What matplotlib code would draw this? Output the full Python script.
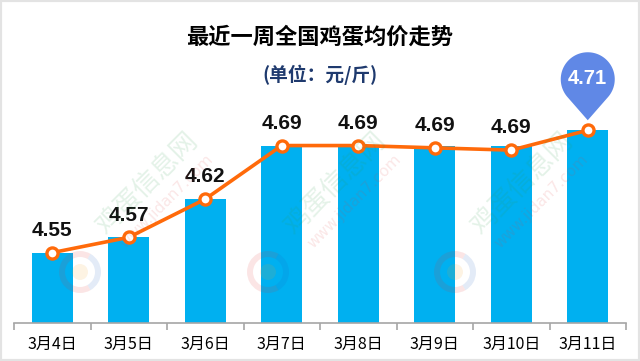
import numpy as np
import matplotlib
matplotlib.use("Agg")
import matplotlib.pyplot as plt
import matplotlib.transforms as mtransforms
from matplotlib.path import Path
from matplotlib.patches import PathPatch, Rectangle, Wedge, Circle

plt.rcParams['font.family'] = ['Noto Sans CJK SC', 'DejaVu Sans']

categories = ["3月4日", "3月5日", "3月6日", "3月7日", "3月8日", "3月9日", "3月10日", "3月11日"]
bar_values = [4.55, 4.57, 4.62, 4.69, 4.69, 4.69, 4.69, 4.71]
line_values = [4.55, 4.57, 4.62, 4.69, 4.69, 4.687, 4.684, 4.71]
title = "最近一周全国鸡蛋均价走势"
subtitle = "(单位：元/斤)"
watermark_cn = "鸡蛋信息网"
watermark_url = "www.jidan7.com"

W, H = 640, 361
fig = plt.figure(figsize=(6.4, 3.61), dpi=100)
fig.patch.set_facecolor("white")
ax = fig.add_axes([14/W, 1-323/H, 612/W, (323-40)/H])
ax.set_facecolor("none")

x = np.arange(len(categories))
ax.bar(x, bar_values, width=0.53, color="#00b0f0", zorder=2)
ax.plot(x, line_values, color="#ff6a0a", lw=2.6, marker="o", ms=8,
        mfc="white", mec="#ff6a0a", mew=2.4, zorder=4)

ax.set_xlim(-0.5, len(categories)-0.5)
ax.set_ylim(4.458, 4.828)
for s in ["top", "right", "left"]:
    ax.spines[s].set_visible(False)
ax.spines["bottom"].set_color("#a6a6a6")
ax.spines["bottom"].set_linewidth(1.2)
ax.set_yticks([])
ax.set_xticks(x)
ax.set_xticklabels(categories, fontsize=11.5, color="black")
ax.tick_params(axis="x", length=0, pad=9)
ax.set_xticks(np.arange(-0.5, len(categories)), minor=True)
ax.tick_params(axis="x", which="minor", length=5, color="#a6a6a6", width=1.2, direction="out")

# value labels
for i, v in enumerate(line_values[:-1]):
    ax.annotate(f"{bar_values[i]:.2f}", (x[i], v), xytext=(0, 12), textcoords="offset points",
                ha="center", va="baseline", fontsize=15, fontweight="bold",
                family=["Liberation Sans"], color="#111111", zorder=5)

# pin for last value
R, d = 27.0, 41.0
tx = np.sqrt(1-(R/d)**2)*R
ty = -R*R/d
a0 = np.arctan2(ty, tx)
angs = np.linspace(a0, np.pi - a0, 80)
verts = [(0, -d)] + [(R*np.cos(a), R*np.sin(a)) for a in angs] + [(0, -d)]
codes = [Path.MOVETO] + [Path.LINETO]*len(angs) + [Path.CLOSEPOLY]
pin = Path(verts, codes)
li = len(categories)-1
scale = fig.dpi/100.0
trans = (mtransforms.Affine2D().translate(0, d + 10).scale(scale)
         + mtransforms.ScaledTranslation(x[li], line_values[li], ax.transData))
ax.add_patch(PathPatch(pin, facecolor="#6088e6", edgecolor="none", transform=trans,
                       clip_on=False, zorder=6))
ax.annotate(f"{bar_values[li]:.2f}", (x[li], line_values[li]), xytext=(0, 46*0.72),
            textcoords="offset points", ha="center", va="baseline", fontsize=14.5,
            fontweight="bold", family=["Liberation Sans"], color="white", zorder=7)

# watermark
for lx in [80, 268, 455]:
    ly = 272
    fig.text((lx+67)/W, 1-(ly-89)/H, watermark_cn, rotation=45, fontsize=19, color="#2e9e4f",
             alpha=0.13, ha="center", va="center")
    fig.text((lx+86)/W, 1-(ly-71)/H, watermark_url, rotation=45, fontsize=11,
             color="#e04040", alpha=0.13, ha="center", va="center", family=["DejaVu Sans"])
    c = (lx/W, 1-ly/H)
    fig.patches.append(Wedge((lx, H-ly), 21, 60, 300, width=6, transform=None,
                             facecolor="#e03030", alpha=0.12, edgecolor="none"))
    fig.patches.append(Wedge((lx, H-ly), 21, 300, 420, width=6, transform=None,
                             facecolor="#2060c0", alpha=0.12, edgecolor="none"))
    fig.patches.append(Circle((lx, H-ly), 8, transform=None,
                              facecolor="#f0a020", alpha=0.12, edgecolor="none"))

fig.text(0.5, 1-37/H, title, ha="center", va="center", fontsize=16,
         fontweight="bold", color="black")
fig.text(0.5, 1-75/H, subtitle, ha="center", va="center", fontsize=13.5,
         fontweight="bold", color="#1f3a6e")

fig.patches.append(Rectangle((0, 0), 1, 1, transform=fig.transFigure, fill=False,
                             edgecolor="#e3e3e3", lw=3))
fig.savefig("out.png", dpi=100)
